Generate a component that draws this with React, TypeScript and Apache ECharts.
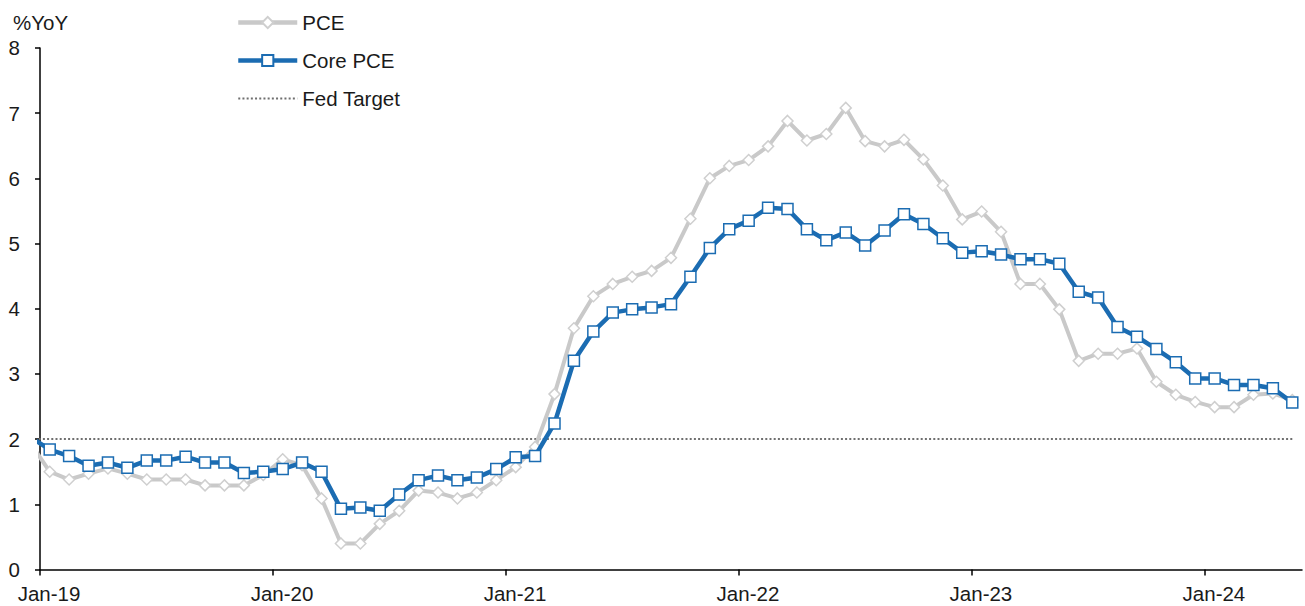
import React, { useEffect, useRef } from "react";
import * as echarts from "echarts";

// Months from Dec-18 to May-24 (Dec-18 sits just left of the axis and is clipped)
const startYear = 2018;
const startMonth = 11; // Dec
const xTickLabels = ["Jan-19", "Jan-20", "Jan-21", "Jan-22", "Jan-23", "Jan-24"];
const xTickValues = [0, 12, 24, 36, 48, 60];
const yTicks = [0, 1, 2, 3, 4, 5, 6, 7, 8];

const pce = [
  1.94,
  1.5, 1.38, 1.47, 1.55, 1.47, 1.38, 1.38, 1.38, 1.29, 1.29, 1.29, 1.45,
  1.69, 1.6, 1.09, 0.4, 0.4, 0.7, 0.9, 1.21, 1.18, 1.09, 1.18, 1.37,
  1.57, 1.88, 2.69, 3.7, 4.19, 4.38, 4.49, 4.58, 4.78, 5.38, 6.0, 6.19,
  6.28, 6.49, 6.88, 6.58, 6.68, 7.08, 6.57, 6.49, 6.59, 6.29, 5.89, 5.37,
  5.49, 5.18, 4.38, 4.38, 3.99, 3.2, 3.31, 3.31, 3.39, 2.88, 2.68, 2.57,
  2.49, 2.49, 2.68, 2.7, 2.6,
];

const corePce = [
  2.03,
  1.84, 1.74, 1.59, 1.64, 1.56, 1.67, 1.67, 1.73, 1.64, 1.64, 1.48, 1.5,
  1.54, 1.64, 1.5, 0.93, 0.95, 0.9, 1.15, 1.37, 1.44, 1.37, 1.41, 1.54,
  1.72, 1.74, 2.24, 3.2, 3.65, 3.94, 3.99, 4.02, 4.07, 4.49, 4.93, 5.22,
  5.35, 5.55, 5.53, 5.22, 5.05, 5.17, 4.97, 5.2, 5.45, 5.3, 5.08, 4.86,
  4.88, 4.83, 4.76, 4.76, 4.69, 4.26, 4.17, 3.72, 3.57, 3.38, 3.18, 2.93,
  2.93, 2.83, 2.83, 2.78, 2.56,
];

const fedTarget = pce.map(() => 2);

const FONT = "'Liberation Sans', Arial, sans-serif";
const TEXT = "#1a1a1a";
const FS = 20.5;
const BLUE = "#1b6cb2";
const GREY = "#c9c9c9";
const DOT = "#6f6f6f";

// x position: months since Jan-19, plotted mid-month
const toX = (i: number) => i + (startYear - 2019) * 12 + startMonth + 0.5;

export default function App() {
  const ref = useRef<HTMLDivElement>(null);

  useEffect(() => {
    if (!ref.current) return;
    const chart = echarts.init(ref.current, null, { renderer: "svg" });
    const pts = (arr: number[]) => arr.map((v, i) => [toX(i), v]);
    chart.setOption({
      animation: false,
      textStyle: { fontFamily: FONT },
      title: {
        text: "%YoY",
        left: 8,
        top: 7,
        textStyle: { fontFamily: FONT, fontSize: FS, fontWeight: "normal", color: TEXT },
      },
      legend: {
        orient: "vertical",
        left: 231,
        top: 7,
        itemWidth: 59,
        itemHeight: 14,
        itemGap: 17,
        data: [
          { name: "PCE", lineStyle: { width: 4.5, color: GREY } },
          { name: "Core PCE", lineStyle: { width: 4.5, color: BLUE } },
          { name: "Fed Target", lineStyle: { width: 2, color: DOT, type: [2, 2.2] }, itemStyle: { opacity: 0 } },
        ],
        textStyle: { fontFamily: FONT, fontSize: FS, color: TEXT, lineHeight: 20 },
      },
      grid: { left: 40, right: 3, top: 47.9, bottom: 36.5, containLabel: false },
      xAxis: {
        type: "value",
        min: 0,
        max: 65,
        interval: 12,
        splitLine: { show: false },
        axisLine: { lineStyle: { color: "#000", width: 1.5 } },
        axisTick: {
          show: true,
          length: 6,
          customValues: xTickValues,
          lineStyle: { color: "#000", width: 1.5 },
        },
        axisLabel: {
          customValues: xTickValues,
          formatter: (v: number) => xTickLabels[xTickValues.indexOf(v)] ?? "",
          fontFamily: FONT,
          fontSize: FS,
          color: TEXT,
          margin: 13,
          padding: [0, 0, 0, 18],
        },
      },
      yAxis: {
        type: "value",
        min: yTicks[0],
        max: yTicks[yTicks.length - 1],
        interval: 1,
        splitLine: { show: false },
        axisLine: { show: true, lineStyle: { color: "#000", width: 1.5 } },
        axisTick: { show: true, length: 5, lineStyle: { color: "#000", width: 1.5 } },
        axisLabel: { fontFamily: FONT, fontSize: FS, color: TEXT, margin: 20 },
      },
      series: [
        {
          name: "Fed Target",
          type: "line",
          data: pts(fedTarget),
          symbol: "none",
          lineStyle: { color: DOT, width: 2, type: [2, 2.2] },
          itemStyle: { color: DOT },
          z: 1,
        },
        {
          name: "PCE",
          type: "line",
          data: pts(pce),
          symbol: "diamond",
          symbolSize: 11,
          lineStyle: { color: GREY, width: 4 },
          itemStyle: { color: "#ffffff", borderColor: "#cfcfcf", borderWidth: 1.5 },
          z: 2,
        },
        {
          name: "Core PCE",
          type: "line",
          data: pts(corePce),
          symbol: "rect",
          symbolSize: 11,
          lineStyle: { color: BLUE, width: 4.5 },
          itemStyle: { color: "#ffffff", borderColor: BLUE, borderWidth: 1.5 },
          z: 3,
        },
      ],
    });
    return () => chart.dispose();
  }, []);

  return (
    <div
      ref={ref}
      style={{ position: "fixed", left: 0, top: 0, width: 1305, height: 606, background: "#fff" }}
    />
  );
}
